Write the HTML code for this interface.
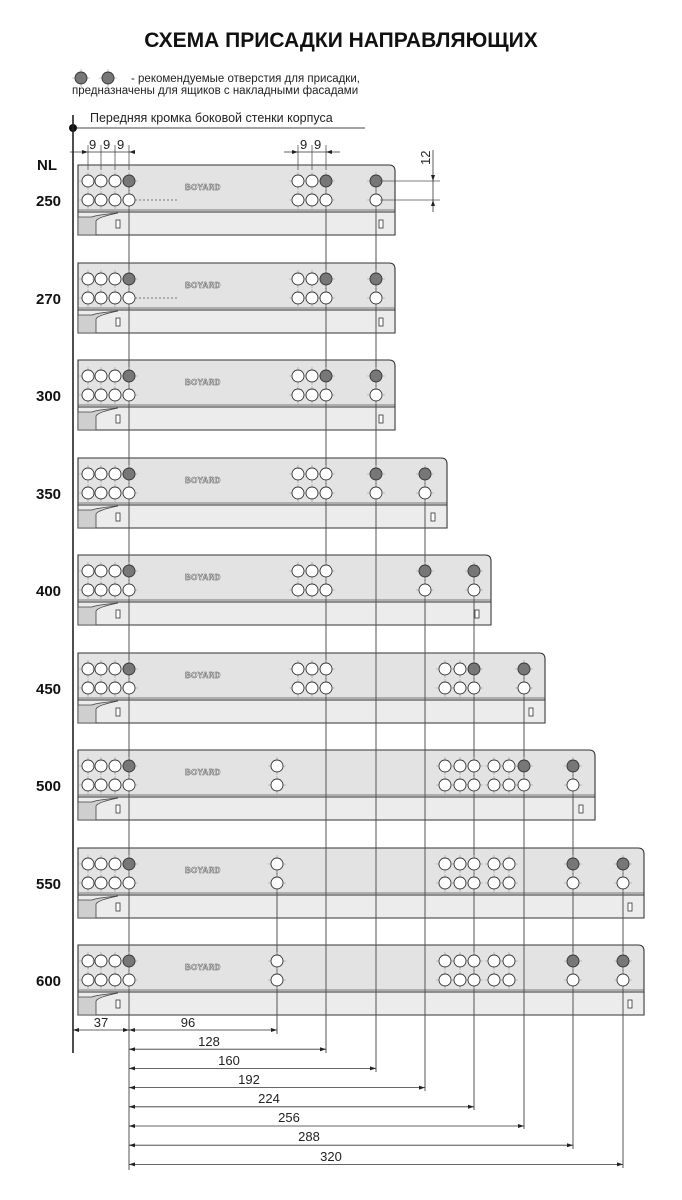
<!DOCTYPE html>
<html><head><meta charset="utf-8"><style>
body{margin:0;background:#fff;}
svg{display:block;font-family:"Liberation Sans",Arial,sans-serif;}
</style></head><body>
<svg id="s" width="682" height="1200" viewBox="0 0 682 1200" xmlns="http://www.w3.org/2000/svg">
<rect width="682" height="1200" fill="#fff"/>
<g id="g"></g>
<text x="341" y="47" font-size="21" font-weight="bold" text-anchor="middle" fill="#111">СХЕМА ПРИСАДКИ НАПРАВЛЯЮЩИХ</text>
<text x="131" y="82" font-size="11.5" fill="#222">-  рекомендуемые отверстия для присадки,</text>
<text x="72" y="94" font-size="11.5" fill="#222">предназначены для ящиков с накладными фасадами</text>
<text x="90" y="122" font-size="12.5" fill="#222">Передняя кромка боковой стенки корпуса</text>
<line x1="73" y1="128" x2="365" y2="128" stroke="#444" stroke-width="1"/>
<circle cx="73" cy="128" r="4" fill="#111"/>
<line x1="73" y1="115" x2="73" y2="1053" stroke="#222" stroke-width="1.6"/>
<text x="37" y="170" font-size="15" font-weight="bold" fill="#111">NL</text>
<text x="36" y="206" font-size="15" font-weight="bold" fill="#111">250</text>
<text x="36" y="304" font-size="15" font-weight="bold" fill="#111">270</text>
<text x="36" y="401" font-size="15" font-weight="bold" fill="#111">300</text>
<text x="36" y="499" font-size="15" font-weight="bold" fill="#111">350</text>
<text x="36" y="596" font-size="15" font-weight="bold" fill="#111">400</text>
<text x="36" y="694" font-size="15" font-weight="bold" fill="#111">450</text>
<text x="36" y="791" font-size="15" font-weight="bold" fill="#111">500</text>
<text x="36" y="889" font-size="15" font-weight="bold" fill="#111">550</text>
<text x="36" y="986" font-size="15" font-weight="bold" fill="#111">600</text>
<text x="89" y="149" font-size="13" fill="#222">9</text>
<text x="103" y="149" font-size="13" fill="#222">9</text>
<text x="117" y="149" font-size="13" fill="#222">9</text>
<text x="300" y="149" font-size="13" fill="#222">9</text>
<text x="314" y="149" font-size="13" fill="#222">9</text>
<text x="0" y="0" font-size="13" fill="#222" transform="translate(430,165) rotate(-90)">12</text>
<text x="101" y="1027" font-size="13" fill="#222" text-anchor="middle">37</text>
<text x="188" y="1027" font-size="13" fill="#222" text-anchor="middle">96</text>
<text x="209" y="1046" font-size="13" fill="#222" text-anchor="middle">128</text>
<text x="229" y="1065" font-size="13" fill="#222" text-anchor="middle">160</text>
<text x="249" y="1084" font-size="13" fill="#222" text-anchor="middle">192</text>
<text x="269" y="1103" font-size="13" fill="#222" text-anchor="middle">224</text>
<text x="289" y="1122" font-size="13" fill="#222" text-anchor="middle">256</text>
<text x="309" y="1141" font-size="13" fill="#222" text-anchor="middle">288</text>
<text x="331" y="1161" font-size="13" fill="#222" text-anchor="middle">320</text>
<g font-size="8" font-weight="bold" fill="#fff" stroke="#555" stroke-width="0.5" letter-spacing="0.3">
<text x="185" y="190">BOYARD</text>
<text x="185" y="288">BOYARD</text>
<text x="185" y="385">BOYARD</text>
<text x="185" y="483">BOYARD</text>
<text x="185" y="580">BOYARD</text>
<text x="185" y="678">BOYARD</text>
<text x="185" y="775">BOYARD</text>
<text x="185" y="873">BOYARD</text>
<text x="185" y="970">BOYARD</text>
</g>
</svg>
<script>
var o='';
function hole(x,y,g){
 o+='<line x1="'+(x-9)+'" y1="'+y+'" x2="'+(x+9)+'" y2="'+y+'" stroke="#999" stroke-width="0.6"/>';
 o+='<line x1="'+x+'" y1="'+(y-9)+'" x2="'+x+'" y2="'+(y+9)+'" stroke="#999" stroke-width="0.6"/>';
 o+='<circle cx="'+x+'" cy="'+y+'" r="6" fill="'+(g?'#777':'#fff')+'" stroke="#333" stroke-width="0.9"/>';
}
function ln(x1,y1,x2,y2,c,w){o+='<line x1="'+x1+'" y1="'+y1+'" x2="'+x2+'" y2="'+y2+'" stroke="'+(c||'#333')+'" stroke-width="'+(w||1)+'"/>';}
function arr(x,y,d){o+='<path d="M'+x+' '+y+' l'+(-6*d)+' -2 v4z" fill="#222"/>';}
var F=[88,101,115,129];
var rails=[
 [165,395,[[298,0],[312,0],[326,1],[376,1]],1],
 [263,395,[[298,0],[312,0],[326,1],[376,1]],1],
 [360,395,[[298,0],[312,0],[326,1],[376,1]],0],
 [458,447,[[298,0],[312,0],[326,0],[376,1],[425,1]],0],
 [555,491,[[298,0],[312,0],[326,0],[425,1],[474,1]],0],
 [653,545,[[298,0],[312,0],[326,0],[445,0],[460,0],[474,1],[524,1]],0],
 [750,595,[[277,0],[445,0],[460,0],[474,0],[494,0],[509,0],[524,1],[573,1]],0],
 [848,644,[[277,0],[445,0],[460,0],[474,0],[494,0],[509,0],[573,1],[623,1]],0],
 [945,644,[[277,0],[445,0],[460,0],[474,0],[494,0],[509,0],[573,1],[623,1]],0]
];
rails.forEach(function(r){
 var T=r[0],R=r[1];
 o+='<path d="M78 '+T+' H'+(R-6)+' Q'+R+' '+T+' '+R+' '+(T+6)+' V'+(T+70)+' H78Z" fill="#e3e3e3" stroke="#333" stroke-width="1.1"/>';
 o+='<rect x="78" y="'+(T+47)+'" width="'+(R-78)+'" height="23" fill="#ececec" stroke="#333" stroke-width="1"/>';
 ln(78,T+45,R,T+45,'#555',0.8);
 o+='<path d="M78 '+(T+70)+' V'+(T+52)+' H92 Q96 '+(T+50)+' 118 '+(T+48)+' Q98 '+(T+52)+' 96 '+(T+56)+' V'+(T+70)+'Z" fill="#cfcfcf" stroke="#444" stroke-width="0.8"/>';
 o+='<rect x="116" y="'+(T+55)+'" width="4" height="8" fill="#fff" stroke="#333" stroke-width="0.8"/>';
 o+='<rect x="'+(R-16)+'" y="'+(T+55)+'" width="4" height="8" fill="#fff" stroke="#333" stroke-width="0.8"/>';
 if(r[3]) o+='<line x1="135" y1="'+(T+35)+'" x2="178" y2="'+(T+35)+'" stroke="#555" stroke-width="0.8" stroke-dasharray="2,2"/>';
});
[[129,165],[326,165],[376,165],[425,458],[474,555],[524,653],[573,750],[623,848],[277,848]].forEach(function(v){
 var end={129:1170,277:1034,326:1053,376:1072,425:1091,474:1110,524:1129,573:1149,623:1168}[v[0]];
 ln(v[0],v[1]+16,v[0],end,'#555',1);
});
rails.forEach(function(r){
 var T=r[0];
 F.forEach(function(x,i){hole(x,T+16,i==3);hole(x,T+35,0);});
 r[2].forEach(function(h){hole(h[0],T+16,h[1]);hole(h[0],T+35,0);});
});
[88,101,115,129].forEach(function(x){ln(x,145,x,170,'#555',0.8);});
ln(70,152,135,152,'#333',0.8);arr(88,152,1);arr(129,152,-1);
[298,312,326].forEach(function(x){ln(x,145,x,170,'#555',0.8);});
ln(284,152,340,152,'#333',0.8);arr(298,152,1);arr(326,152,-1);
ln(380,181,440,181,'#555',0.8);ln(380,200,440,200,'#555',0.8);
ln(433,150,433,212,'#333',0.8);
o+='<path d="M433 181 l-2 -6 h4z" fill="#222"/><path d="M433 200 l-2 6 h4z" fill="#222"/>';
ln(73,1030,129,1030,'#333',0.8);arr(73,1030,-1);arr(129,1030,1);
var ends=[277,326,376,425,474,524,573,623];
ends.forEach(function(e,i){var y=1030+i*19.2;ln(129,y,e,y,'#333',0.8);arr(129,y,-1);arr(e,y,1);});
hole(81,78,1);hole(108,78,1);
document.getElementById('g').innerHTML=o;
</script>
</body></html>
